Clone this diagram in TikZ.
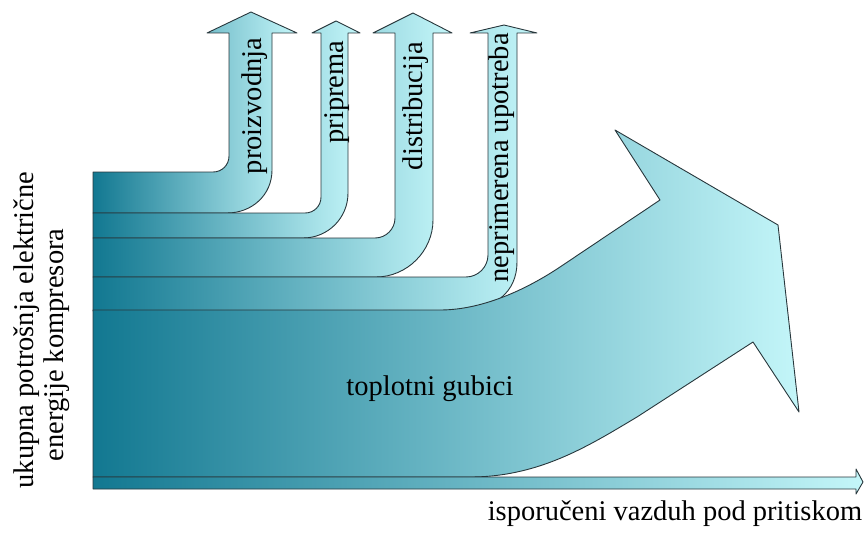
\documentclass[tikz,border=0pt]{standalone}
\usepackage{fontspec}
\setmainfont{Liberation Serif}
\definecolor{flowdark}{RGB}{18,120,145}
\definecolor{flowlight}{RGB}{196,246,249}
\definecolor{edgeline}{RGB}{40,55,60}
\tikzset{
  flow/.style={draw=edgeline, line width=0.9pt, line join=round,
               left color=flowdark, right color=flowlight},
  lbl/.style={font=\fontsize{28.5}{30}\selectfont, inner sep=0pt, text=black}
}
\begin{document}
\begin{tikzpicture}[x=1pt,y=-1pt]
\useasboundingbox (0,0) rectangle (864,535);

% proizvodnja
\path[flow] (93,172) -- (213,172) .. controls (222,172) and (229,165) .. (229,156)
  -- (229,33) -- (207,33) -- (251,12) -- (297,33) -- (272,33) -- (272,170)
  .. controls (272,195) and (252,213) .. (227,213) -- (93,213) -- cycle;

% priprema
\path[flow] (93,213) -- (305,213) .. controls (314,213) and (321,206) .. (321,197)
  -- (321,33) -- (312,33) -- (336,21) -- (360,33) -- (348,33) -- (348,193)
  .. controls (348,218) and (328,238) .. (303,238) -- (93,238) -- cycle;

% distribucija
\path[flow] (93,238) -- (375,238) .. controls (386,238) and (395,229) .. (395,218)
  -- (395,33) -- (373,33) -- (413,13) -- (452,33) -- (433,33) -- (433,220)
  .. controls (433,251) and (407,277) .. (376,277) -- (93,277) -- cycle;

% neprimerena upotreba
\path[flow] (93,277) -- (466,277) .. controls (478,277) and (488,267) .. (488,255)
  -- (488,33) -- (470,33) -- (504,25) -- (537,33) -- (517,33) -- (517,262)
  .. controls (517,292) and (495,311) .. (455,311) -- (93,311) -- cycle;

% toplotni gubici
\path[flow] (93,310) -- (440,310) .. controls (485,310) and (530,287) .. (560,267)
  -- (660,200) -- (615,130) -- (778,225) -- (799,412) -- (753,342) -- (637,417)
  .. controls (590,445) and (540,477) .. (470,477) -- (93,477) -- cycle;

% isporuceni vazduh
\path[flow] (93,477) -- (856,477) -- (856,469) -- (863,482) -- (856,494)
  -- (856,489) -- (93,489) -- cycle;

\node[lbl, rotate=90, anchor=base] (tproiz) at (261,106) {proizvodnja};
\node[lbl, rotate=90, anchor=base] (tpripr) at (343,92) {priprema};
\node[lbl, rotate=90, anchor=base] (tdistr) at (422,106) {distribucija};
\node[lbl, rotate=90, anchor=base] (tneprim) at (508,158) {neprimerena upotreba};
\node[lbl, anchor=base] (ttoplo) at (430,395) {toplotni gubici};
\node[lbl, anchor=base] (tvazd) at (675,520) {isporučeni vazduh pod pritiskom};
\node[lbl, rotate=90, anchor=base] (tuk1) at (33,330) {ukupna potrošnja električne};
\node[lbl, rotate=90, anchor=base] (tuk2) at (63,345) {energije kompresora};
\end{tikzpicture}
\end{document}
